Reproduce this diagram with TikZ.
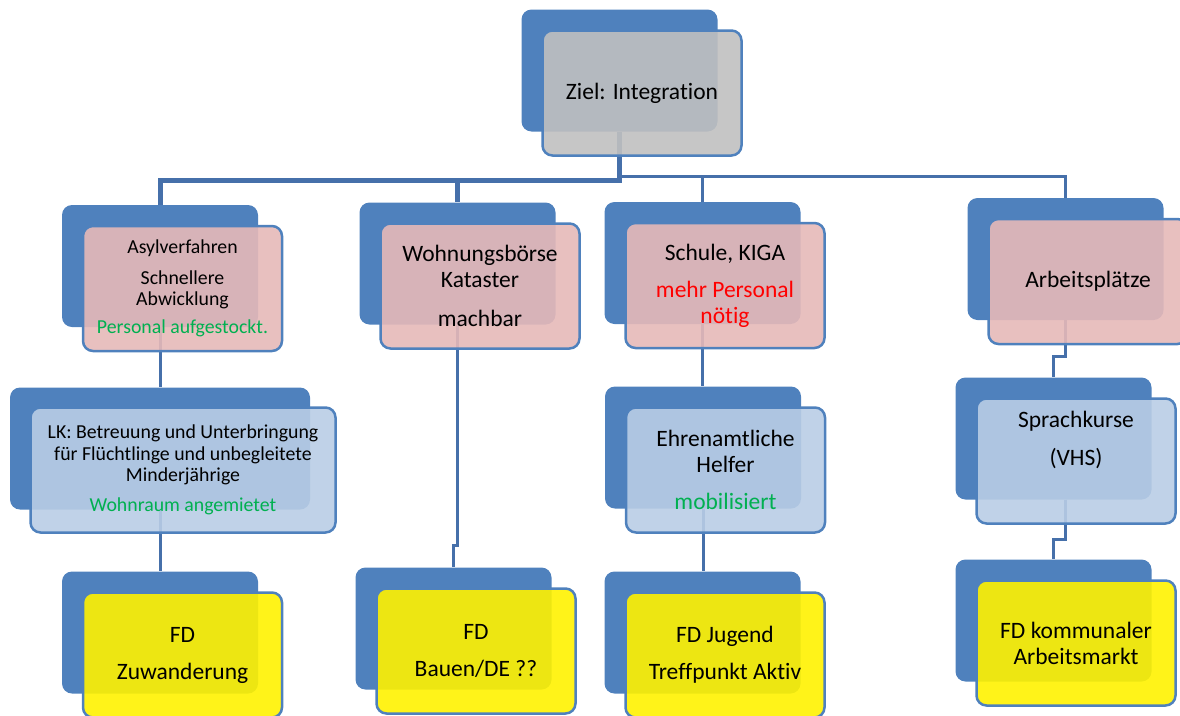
\documentclass[tikz,border=0pt]{standalone}
\usepackage{fontspec}
\setmainfont{Carlito}[Ligatures={NoCommon,NoRequired,NoContextual}]
\usepackage{tikz}
\usepackage{xcolor}
\definecolor{boxblue}{RGB}{79,129,189}
\definecolor{linkblue}{RGB}{70,112,170}
\definecolor{rosefill}{RGB}{230,185,184}
\definecolor{paleblue}{RGB}{185,205,229}
\definecolor{greyfill}{RGB}{192,192,192}
\definecolor{okgreen}{RGB}{0,176,80}
\pgfdeclarelayer{back}
\pgfdeclarelayer{mid}
\pgfsetlayers{back,mid,main}

\begin{document}
\begin{tikzpicture}[x=1pt, y=-1pt,
  frontbox/.style={draw=boxblue, line width=2.5pt, rounded corners=10pt, fill opacity=0.9, text opacity=1,
    minimum width=199pt, minimum height=125pt, inner sep=0pt, align=center,
    font=\fontsize{23.5}{26}\selectfont},
  smalltext/.style={font=\fontsize{19.8}{21.5}\selectfont},
  backbox/.style={fill=boxblue, rounded corners=10pt, minimum width=196pt, minimum height=122pt},
  link/.style={draw=linkblue, line width=3pt}]
\useasboundingbox (0,0) rectangle (1180,715);

% front boxes with text
\node[frontbox, fill=greyfill] (ziel) at (642,93) {Ziel: Integration};
\node[frontbox, fill=rosefill, smalltext] (asyl) at (182.5,288.5) {Asylverfahren\\[9pt]Schnellere\\Abwicklung\\[6pt]\textcolor{okgreen}{Personal aufgestockt.}};
\node[frontbox, fill=rosefill] (wohnung) at (480,286) {Wohnungsbörse\\Kataster\\[13pt]machbar};
\node[frontbox, fill=rosefill] (schule) at (725,285.5) {Schule, KIGA\\[11pt]\textcolor{red}{mehr Personal}\\\textcolor{red}{nötig}};
\node[frontbox, fill=rosefill] (arbeit) at (1088,281.5) {Arbeitsplätze};
\node[frontbox, fill=paleblue, smalltext, minimum width=305pt] (lk) at (183,470) {LK: Betreuung und Unterbringung\\für Flüchtlinge und unbegleitete\\Minderjährige\\[8pt]\textcolor{okgreen}{Wohnraum angemietet}};
\node[frontbox, fill=paleblue] (ehren) at (725.5,470) {Ehrenamtliche\\Helfer\\[11pt]\textcolor{okgreen}{mobilisiert}};
\node[frontbox, fill=paleblue, text depth=46pt] (sprach) at (1076,461) {Sprachkurse\\[12pt](VHS)};
\node[frontbox, fill=yellow] (zuw) at (182.5,655) {FD\\[11pt]Zuwanderung};
\node[frontbox, fill=yellow] (bauen) at (476,651) {FD\\[11pt]Bauen/DE ??};
\node[frontbox, fill=yellow] (jugend) at (725,655) {FD Jugend\\[11pt]Treffpunkt Aktiv};
\node[frontbox, fill=yellow] (markt) at (1076,643) {FD kommunaler\\Arbeitsmarkt};

% blue boxes behind
\begin{pgfonlayer}{back}
\foreach \n in {ziel,asyl,wohnung,schule,arbeit,ehren,sprach,zuw,bauen,jugend,markt}
  \node[backbox] (\n-b) at ([shift={(-22.5,-22.5)}]\n.center) {};
\node[backbox, minimum width=300pt] (lk-b) at ([shift={(-23,-21.5)}]lk.center) {};
\end{pgfonlayer}

% connectors
\begin{pgfonlayer}{mid}
\foreach \n/\d/\w in {asyl/49/5pt, wohnung/49/5pt, schule/45/3pt, arbeit/45/3pt}
  \draw[link, line width=\w] (ziel-b.south) -- ++(0,\d) -| (\n-b.north);
\draw[link] (asyl-b.south) -- (asyl-b.south |- lk-b.north);
\draw[link] (lk-b.south) -- (lk-b.south |- zuw-b.north);
\draw[link] (wohnung-b.south) |- ([shift={(0,-22)}]bauen-b.north) -- (bauen-b.north);
\draw[link] (schule-b.south) -- (schule-b.south |- ehren-b.north);
\draw[link] (ehren-b.south) -- (ehren-b.south |- jugend-b.north);
\draw[link] (arbeit-b.south) |- ([shift={(0,-21)}]sprach-b.north) -- (sprach-b.north);
\draw[link] ([shift={(12,0)}]sprach-b.south) |- ([shift={(0,-20)}]markt-b.north) -- (markt-b.north);
\end{pgfonlayer}
\end{tikzpicture}
\end{document}
